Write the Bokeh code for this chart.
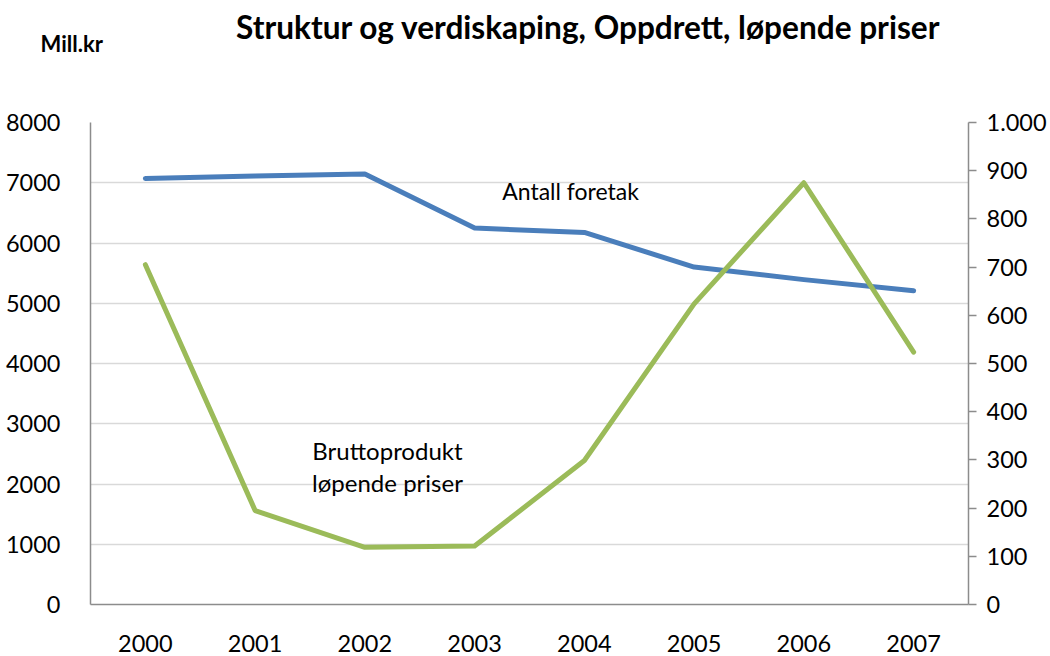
from bokeh.plotting import figure
from bokeh.models import Range1d, LinearAxis, FixedTicker, Label, FactorRange
from bokeh.embed import file_html
from bokeh.resources import INLINE

years = ["2000", "2001", "2002", "2003", "2004", "2005", "2006", "2007"]
bruttoprodukt = [5640, 1560, 950, 970, 2390, 4990, 7000, 4190]   # Mill.kr, left axis
antall_foretak = [884, 889, 893, 781, 772, 700, 674, 651]        # right axis
left_ticks = [0, 1000, 2000, 3000, 4000, 5000, 6000, 7000, 8000]
right_ticks = [0, 100, 200, 300, 400, 500, 600, 700, 800, 900, 1000]

FONT = "Lato"
AXIS_GRAY = "#8c8c8c"
TICK_SIZE = "23.5px"

p = figure(width=1050, height=656, output_backend="svg", toolbar_location=None,
           x_range=FactorRange(*years, range_padding=0),
           y_range=Range1d(0, 8000),
           min_border_left=90, min_border_right=82, min_border_top=122, min_border_bottom=52)
p.extra_y_ranges = {"right": Range1d(0, 1000)}

p.outline_line_color = None
p.background_fill_color = "white"
p.border_fill_color = "white"

# left axis
ya = p.yaxis[0]
ya.ticker = FixedTicker(ticks=left_ticks)
ya.major_tick_line_color = None
ya.minor_tick_line_color = None
ya.axis_line_color = AXIS_GRAY
ya.axis_line_width = 1.5
ya.major_label_text_font = FONT
ya.major_label_text_font_size = TICK_SIZE
ya.major_label_text_color = "black"
ya.major_label_standoff = 24

# bottom axis
xa = p.xaxis[0]
xa.major_tick_line_color = None
xa.minor_tick_line_color = None
xa.axis_line_color = AXIS_GRAY
xa.axis_line_width = 1.5
xa.major_label_text_font = FONT
xa.major_label_text_font_size = TICK_SIZE
xa.major_label_text_color = "black"
xa.major_label_standoff = 24

# right axis
ra = LinearAxis(y_range_name="right", ticker=FixedTicker(ticks=right_ticks))
ra.major_label_overrides = {1000: "1.000"}
ra.axis_line_color = AXIS_GRAY
ra.axis_line_width = 1.5
ra.major_tick_line_color = AXIS_GRAY
ra.major_tick_line_width = 1.5
ra.major_tick_in = 0
ra.major_tick_out = 8
ra.minor_tick_line_color = None
ra.major_label_text_font = FONT
ra.major_label_text_font_size = TICK_SIZE
ra.major_label_text_color = "black"
ra.major_label_standoff = 10
p.add_layout(ra, "right")

p.xgrid.grid_line_color = None
p.ygrid.grid_line_color = "#d9d9d9"
p.ygrid.grid_line_width = 1.5

p.line(x=years, y=antall_foretak, y_range_name="right", line_color="#4a7ebb",
       line_width=5, line_cap="round", line_join="round")
p.line(x=years, y=bruttoprodukt, line_color="#9bbb59",
       line_width=5, line_cap="round", line_join="round")

def lab(x, y, text, size, bold=False, align="center"):
    p.add_layout(Label(x=x, y=y, text=text, text_font=FONT, text_font_size=size,
                       text_font_style="bold" if bold else "normal", text_color="black",
                       text_align=align, text_baseline="middle"))

lab(4.374, 6871, "Antall foretak", "23px")
lab(2.706, 2556, "Bruttoprodukt", "24px")
lab(2.706, 2025, "løpende priser", "24px")

# texts above the plot area, in screen pixels from the bottom-left of their panel
title = Label(x=498, y=96, x_units="screen", y_units="screen",
              text="Struktur og verdiskaping, Oppdrett, løpende priser",
              text_font=FONT, text_font_size="31.6px", text_font_style="bold",
              text_color="black", text_align="center", text_baseline="middle")
p.add_layout(title, "above")

mill = Label(x=-50, y=41, x_units="screen", y_units="screen", text="Mill.kr",
             text_font=FONT, text_font_size="22px", text_font_style="bold",
             text_color="black", text_align="left", text_baseline="middle")
p.add_layout(mill, "above")

open("out.html", "w").write(file_html(p, INLINE))
